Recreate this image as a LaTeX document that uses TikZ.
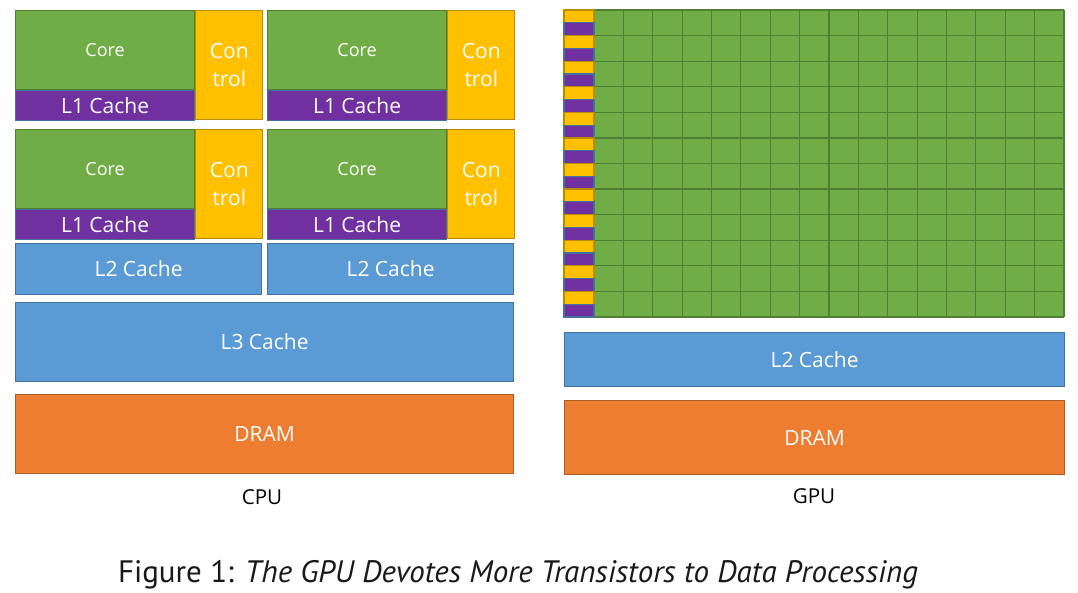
\documentclass[tikz,border=0pt]{standalone}
\usepackage{fontspec}
\setmainfont{Open Sans}
\newfontfamily\capfont{PT Sans}
\definecolor{coregreen}{HTML}{70AD47}
\definecolor{coreedge}{HTML}{507E32}
\definecolor{cachepurple}{HTML}{7030A0}
\definecolor{ctrlyellow}{HTML}{FFC000}
\definecolor{ctrledge}{HTML}{BC8C00}
\definecolor{cacheblue}{HTML}{5B9BD5}
\definecolor{blueedge}{HTML}{41719C}
\definecolor{dramorange}{HTML}{ED7D31}
\definecolor{dramedge}{HTML}{AE5A21}
\tikzset{
  blk/.style={draw, line width=0.6pt, text=white, anchor=north west, inner sep=0pt, align=center},
  corebox/.style={blk, fill=coregreen, draw=coreedge, minimum width=89.5pt, minimum height=39.5pt, font=\fontsize{9}{10}\selectfont},
  lonebox/.style={blk, fill=cachepurple, draw=blueedge, minimum width=89.5pt, minimum height=15pt, font=\fontsize{10.5}{12}\selectfont},
  ctrlbox/.style={blk, fill=ctrlyellow, draw=ctrledge, minimum width=33.5pt, minimum height=54.5pt, font=\fontsize{10.5}{14}\selectfont},
  cachebox/.style={blk, fill=cacheblue, draw=blueedge, font=\fontsize{10.5}{12}\selectfont},
  drambox/.style={blk, fill=dramorange, draw=dramedge, font=\fontsize{10.5}{12}\selectfont},
  tag/.style={font=\fontsize{10.3}{12}\selectfont}
}
\begin{document}
\begin{tikzpicture}[x=0.5pt, y=-0.5pt]
  \useasboundingbox (0,0) rectangle (1078,593);
  %CPU
  \foreach \bx/\by/\n in {15/10/a, 267/10/b, 15/129/c, 267/129/d} {
    \node[corebox] (core\n) at (\bx,\by) {Core};
    \node[lonebox] (lone\n) at (core\n.south west) {L1 Cache};
    \node[ctrlbox] (ctrl\n) at (core\n.north east) {Con\\trol};
  }
  \node[cachebox, minimum width=123pt, minimum height=25.5pt] (ltwoa) at (15,243) {L2 Cache};
  \node[cachebox, minimum width=123pt, minimum height=25.5pt] (ltwob) at (267,243) {L2 Cache};
  \node[cachebox, minimum width=249pt, minimum height=39.5pt] (lthree) at (15,302) {L3 Cache};
  \node[drambox, minimum width=249pt, minimum height=39.5pt] (cpudram) at (15,394) {DRAM};
  \node[tag] (cpulabel) at (262,497) {CPU};
  %GPU
  \fill[coregreen] (594,10) rectangle (1064,317);
  \foreach \i in {0,...,16}
    \draw[coreedge, line width=0.6pt] ({594+\i*29.375},10) -- ++(0,307);
  \foreach \j in {0,...,12}
    \draw[coreedge, line width=0.6pt] (594,{10+\j*25.583}) -- ++(470,0);
  \foreach \j in {0,...,11} {
    \filldraw[fill=ctrlyellow, draw=ctrledge, line width=0.6pt] (564,{10+\j*25.583}) rectangle ++(30,12.79);
    \filldraw[fill=cachepurple, draw=blueedge, line width=0.6pt] (564,{22.79+\j*25.583}) rectangle ++(30,12.79);
  }
  \node[cachebox, minimum width=250pt, minimum height=27pt] (gpultwo) at (564,332) {L2 Cache};
  \node[drambox, minimum width=250pt, minimum height=37pt] (gpudram) at (564,400) {DRAM};
  \node[tag] (gpulabel) at (814,496) {GPU};
  %caption
  \node[font=\capfont\fontsize{15.5}{18}\selectfont, text=black!90] (caption) at (518,575)
    {Figure 1: \textit{The GPU Devotes More Transistors to Data Processing}};
\end{tikzpicture}
\end{document}
